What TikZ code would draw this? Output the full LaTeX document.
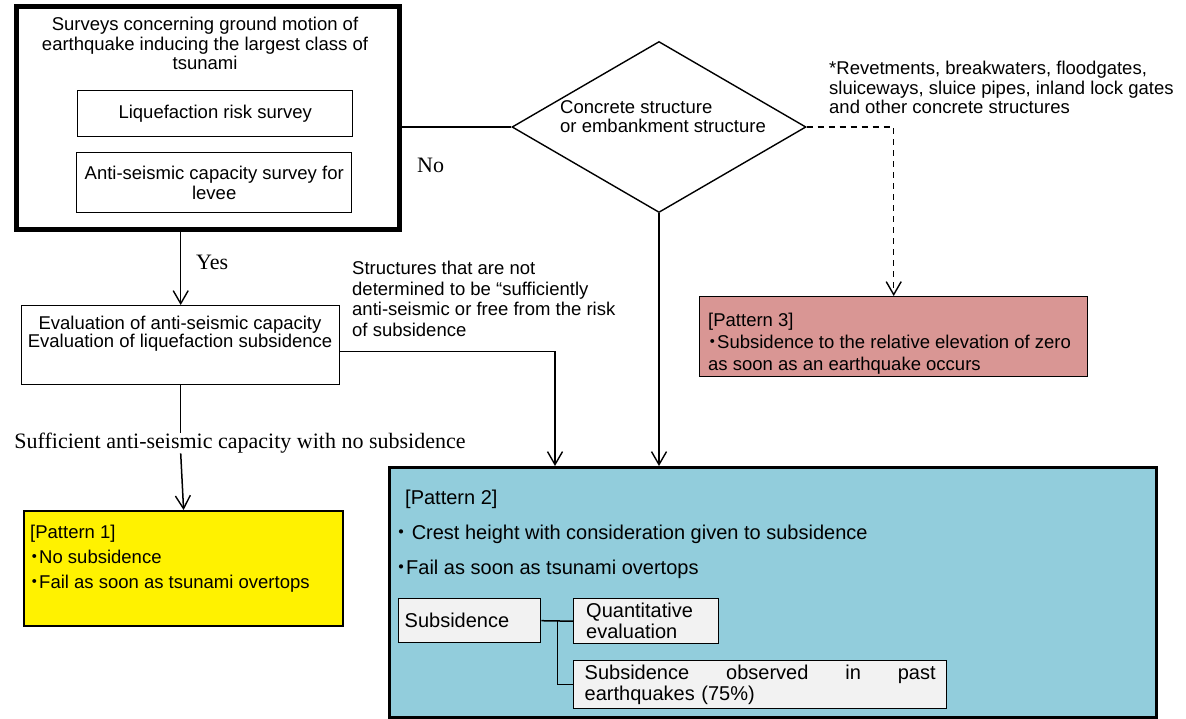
\documentclass[tikz,border=0pt]{standalone}
\usepackage{fontspec}
\setmainfont{Liberation Sans}
\newfontfamily\tms{Liberation Serif}
\newfontfamily\cjk{Noto Sans CJK JP}
\usetikzlibrary{arrows.meta,positioning,shapes.geometric}
\definecolor{ptwo}{HTML}{92CDDC}
\definecolor{pthree}{HTML}{D99694}
\definecolor{subfill}{HTML}{F2F2F2}
\newcommand{\bul}{\makebox[9pt]{\cjk ・}}

\begin{document}
\begin{tikzpicture}[x=1pt,y=-1pt,
  every node/.style={font=\fontsize{18.5}{19.5}\selectfont},
  box/.style={draw,line width=1.4pt,inner sep=0pt,anchor=north west},
  txt/.style={inner sep=0pt,align=left,anchor=north west},
  lbl/.style={inner sep=0pt,font=\tms\fontsize{22}{24}\selectfont},
  big/.style={font=\fontsize{20}{21}\selectfont},
  link/.style={line width=1.5pt},
  arr/.style={link,-{Straight Barb[length=13pt,width=15pt,line width=1.4pt]}}]
\useasboundingbox (0,0) rectangle (1186,718);

% surveys
\node[box,line width=4.5pt,minimum width=383,minimum height=223] (svy) at (14,4) {};
\node[align=center,inner sep=0pt,anchor=north] (svyt) at (205,17) {Surveys concerning ground motion of\\earthquake inducing the largest class of\\tsunami};
\node[box,minimum width=275,minimum height=46] (liq) at (77,90) {Liquefaction risk survey};
\node[box,minimum width=275,minimum height=60,align=center] (anti) at (76,152) {Anti-seismic capacity survey for\\levee};

% decision
\node[draw,diamond,line width=1.4pt,minimum width=294,minimum height=171,inner sep=0pt] (cs) at (659,127) {};
\node[txt] (cst) at (560,100) {Concrete structure\\or embankment structure};
\node[txt] (note) at (829,61) {*Revetments, breakwaters, floodgates,\\sluiceways, sluice pipes, inland lock gates\\and other concrete structures};
\node[lbl,anchor=west] (no) at (417,165) {No};

% evaluation
\node[box,minimum width=318,minimum height=79] (ev) at (21,305) {};
\node[align=center,inner sep=0pt,anchor=north,font=\fontsize{18.5}{18}\selectfont] (evt) at (180,316) {Evaluation of anti-seismic capacity\\Evaluation of liquefaction subsidence};
\node[lbl,anchor=west] (yes) at (196,262) {Yes};
\node[txt,font=\fontsize{18.5}{20.5}\selectfont] (nsuf) at (352,261) {Structures that are not\\determined to be “sufficiently\\anti-seismic or free from the risk\\of subsidence};
\node[lbl,fill=white] (suf) at (240,443) {Sufficient anti-seismic capacity with no subsidence};

% patterns
\node[box,line width=2.2pt,fill=yellow,minimum width=319,minimum height=115] (p1) at (23,510) {};
\node[txt,font=\fontsize{18.5}{25}\selectfont] (p1t) at (30,525) {[Pattern 1]\\\bul No subsidence\\\bul Fail as soon as tsunami overtops};

\node[box,line width=3pt,fill=ptwo,minimum width=767,minimum height=250] (p2) at (388,466) {};
\node[txt,big] (p2a) at (405,490) {[Pattern 2]};
\node[txt,big] (p2b) at (397,525) {\bul\ Crest height with consideration given to subsidence};
\node[txt,big] (p2c) at (397,560) {\bul Fail as soon as tsunami overtops};
\node[box,big,fill=subfill,text width=130,inner xsep=6pt,minimum height=44] (sub) at (398,598) {Subsidence};
\node[box,big,fill=subfill,text width=120,minimum width=145,minimum height=45] (quant) at (573,598) {Quantitative\\evaluation};
\node[box,big,fill=subfill,text width=351,align=left,minimum width=373,minimum height=48] (past) at (573,660) {\makebox[351pt]{Subsidence\hfill observed\hfill in\hfill past}\\earthquakes (75\%)};

\node[box,fill=pthree,minimum width=388,minimum height=80] (p3) at (699,296) {};
\node[txt,font=\fontsize{18.5}{22}\selectfont] (p3t) at (708,313) {[Pattern 3]\\\bul Subsidence to the relative elevation of zero\\as soon as an earthquake occurs};

\coordinate (p2in) at (555,466);

% connectors
\draw[link] (cs.west) -- (cs.west -| svy.east);
\draw[arr,dash pattern=on 6pt off 5pt] (cs.east) -| (p3.north);
\draw[arr] (cs.south) -- (cs.south |- p2.north);
\draw[arr] (ev.north |- svy.south) -- (ev.north);
\draw[arr] (ev.east |- evt.south) -| (p2in);
\draw[link] (ev.south) -- (ev.south |- suf.north);
\draw[arr] (ev.south |- suf.south) -- (p1.north);
\draw[link] (sub.east) -- (quant.west);
\draw[link] ([xshift=16]sub.east) |- (past.west);
\end{tikzpicture}
\end{document}
